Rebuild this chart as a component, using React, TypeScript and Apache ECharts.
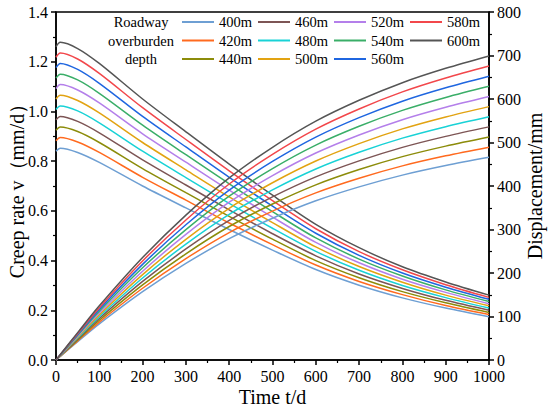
import React, { useEffect, useRef } from "react";
import * as echarts from "echarts";

// Time points (d)
const times = [0, 10, 50, 100, 200, 300, 400, 500, 600, 700, 800, 900, 1000];

// Roadway overburden depths
const depths = ["400m", "420m", "440m", "460m", "480m", "500m", "520m", "540m", "560m", "580m", "600m"];

// Creep rate v (mm/d)
const creep400 = [0.840, 0.852, 0.835, 0.795, 0.700, 0.612, 0.525, 0.442, 0.364, 0.301, 0.250, 0.209, 0.174];
const creep420 = [0.882, 0.895, 0.877, 0.835, 0.735, 0.643, 0.551, 0.464, 0.382, 0.316, 0.263, 0.219, 0.183];
const creep440 = [0.924, 0.937, 0.919, 0.875, 0.770, 0.673, 0.578, 0.486, 0.400, 0.331, 0.275, 0.230, 0.191];
const creep460 = [0.966, 0.980, 0.960, 0.914, 0.805, 0.704, 0.604, 0.508, 0.419, 0.346, 0.288, 0.240, 0.200];
const creep480 = [1.008, 1.022, 1.002, 0.954, 0.840, 0.734, 0.630, 0.530, 0.437, 0.361, 0.300, 0.251, 0.209];
const creep500 = [1.050, 1.065, 1.044, 0.994, 0.875, 0.765, 0.656, 0.553, 0.455, 0.376, 0.313, 0.261, 0.218];
const creep520 = [1.092, 1.108, 1.086, 1.034, 0.910, 0.796, 0.683, 0.575, 0.473, 0.391, 0.325, 0.272, 0.226];
const creep540 = [1.134, 1.150, 1.127, 1.073, 0.945, 0.826, 0.709, 0.597, 0.491, 0.406, 0.338, 0.282, 0.235];
const creep560 = [1.176, 1.193, 1.169, 1.113, 0.980, 0.857, 0.735, 0.619, 0.510, 0.421, 0.350, 0.293, 0.244];
const creep580 = [1.218, 1.235, 1.211, 1.153, 1.015, 0.887, 0.761, 0.641, 0.528, 0.436, 0.363, 0.303, 0.252];
const creep600 = [1.260, 1.278, 1.253, 1.193, 1.050, 0.918, 0.788, 0.663, 0.546, 0.452, 0.375, 0.314, 0.261];

// Displacement (mm)
const disp400 = [0, 8.5, 42.0, 83.0, 157.0, 222.0, 279.0, 326.0, 366.0, 398.0, 425.0, 447.0, 466.0];
const disp420 = [0, 8.9, 44.1, 87.2, 164.9, 233.1, 293.0, 342.3, 384.3, 417.9, 446.3, 469.4, 489.3];
const disp440 = [0, 9.4, 46.2, 91.3, 172.7, 244.2, 306.9, 358.6, 402.6, 437.8, 467.5, 491.7, 512.6];
const disp460 = [0, 9.8, 48.3, 95.5, 180.6, 255.3, 320.9, 374.9, 420.9, 457.7, 488.8, 514.1, 535.9];
const disp480 = [0, 10.2, 50.4, 99.6, 188.4, 266.4, 334.8, 391.2, 439.2, 477.6, 510.0, 536.4, 559.2];
const disp500 = [0, 10.6, 52.5, 103.8, 196.3, 277.5, 348.8, 407.5, 457.5, 497.5, 531.3, 558.8, 582.5];
const disp520 = [0, 11.1, 54.6, 107.9, 204.1, 288.6, 362.7, 423.8, 475.8, 517.4, 552.5, 581.1, 605.8];
const disp540 = [0, 11.5, 56.7, 112.1, 212.0, 299.7, 376.7, 440.1, 494.1, 537.3, 573.8, 603.5, 629.1];
const disp560 = [0, 11.9, 58.8, 116.2, 219.8, 310.8, 390.6, 456.4, 512.4, 557.2, 595.0, 625.8, 652.4];
const disp580 = [0, 12.3, 60.9, 120.4, 227.7, 321.9, 404.6, 472.7, 530.7, 577.1, 616.3, 648.2, 675.7];
const disp600 = [0, 12.8, 63.0, 124.5, 235.5, 333.0, 418.5, 489.0, 549.0, 597.0, 637.5, 670.5, 699.0];

const creepSets = [creep400, creep420, creep440, creep460, creep480, creep500, creep520, creep540, creep560, creep580, creep600];
const dispSets = [disp400, disp420, disp440, disp460, disp480, disp500, disp520, disp540, disp560, disp580, disp600];

const colors = [
  "#6E9FD3", "#FF6A1F", "#8C8C0A", "#7D5555", "#19D2D6", "#E2A312",
  "#B47FEA", "#3AAE68", "#1F66E0", "#F2474B", "#555555",
];

const legendTitle = ["Roadway", "overburden", "depth"];
const legendColumns = [
  ["400m", "420m", "440m"],
  ["460m", "480m", "500m"],
  ["520m", "540m", "560m"],
  ["580m", "600m"],
];

const FONT = "'Liberation Serif', serif";

export default function App() {
  const ref = useRef<HTMLDivElement>(null);

  useEffect(() => {
    if (!ref.current) return;
    const chart = echarts.init(ref.current, undefined, { renderer: "svg" });

    const series: any[] = [];
    depths.forEach((name, i) => {
      series.push({
        name,
        type: "line",
        yAxisIndex: 0,
        data: times.map((t, j) => [t, creepSets[i][j]]),
        smooth: 0.3,
        symbol: "none",
        lineStyle: { width: 1.5, color: colors[i] },
        itemStyle: { color: colors[i] },
      });
    });
    depths.forEach((name, i) => {
      series.push({
        name,
        type: "line",
        yAxisIndex: 1,
        data: times.map((t, j) => [t, dispSets[i][j]]),
        smooth: 0.3,
        symbol: "none",
        lineStyle: { width: 1.5, color: colors[i] },
        itemStyle: { color: colors[i] },
      });
    });

    const colLefts = [182, 258, 334, 410];
    const legends = legendColumns.map((col, k) => ({
      orient: "vertical",
      left: colLefts[k],
      top: 13,
      data: col,
      icon: "rect",
      itemWidth: 32,
      itemHeight: 2,
      itemGap: 0.5,
      selectedMode: false,
      textStyle: { fontFamily: FONT, fontSize: 14.5, color: "#000", lineHeight: 18 },
      padding: 0,
    }));

    const axisLine = { show: true, lineStyle: { color: "#000", width: 1.5 } };
    const labelStyle = { fontFamily: FONT, fontSize: 16, color: "#000" };
    const nameStyle = { fontFamily: FONT, fontSize: 20, color: "#000" };

    chart.setOption({
      animation: false,
      backgroundColor: "#fff",
      textStyle: { fontFamily: FONT },
      grid: {
        left: 56,
        right: 61,
        top: 12,
        bottom: 57,
        containLabel: false,
        outerBoundsMode: "none",
        show: true,
        borderColor: "#000",
        borderWidth: 1.5,
        backgroundColor: "transparent",
      },
      legend: legends,
      graphic: legendTitle.map((txt, i) => ({
        type: "text",
        x: 141,
        y: 22 + i * 18.5,
        style: {
          text: txt,
          font: `14.5px ${FONT}`,
          fill: "#000",
          textAlign: "center",
          textVerticalAlign: "middle",
        },
      })),
      xAxis: {
        type: "value",
        min: 0,
        max: 1000,
        interval: 100,
        name: "Time t/d",
        nameLocation: "middle",
        nameGap: 27,
        nameMoveOverlap: false,
        nameTextStyle: nameStyle,
        axisLine,
        axisTick: { show: true, length: 5, lineStyle: { color: "#000", width: 1.5 } },
        minorTick: { show: true, splitNumber: 2, length: 3, lineStyle: { color: "#000", width: 1.2 } },
        axisLabel: { ...labelStyle, margin: 8, formatter: (v: number) => String(v) },
        splitLine: { show: false },
      },
      yAxis: [
        {
          type: "value",
          min: 0,
          max: 1.4,
          interval: 0.2,
          position: "left",
          name: "Creep rate v（mm/d）",
          nameLocation: "middle",
          nameGap: 29,
          nameMoveOverlap: false,
          nameTextStyle: nameStyle,
          axisLine,
          axisTick: { show: true, length: 5, lineStyle: { color: "#000", width: 1.5 } },
          minorTick: { show: true, splitNumber: 2, length: 3, lineStyle: { color: "#000", width: 1.2 } },
          axisLabel: { ...labelStyle, margin: 8, formatter: (v: number) => v.toFixed(1) },
          splitLine: { show: false },
        },
        {
          type: "value",
          min: 0,
          max: 800,
          interval: 100,
          position: "right",
          name: "Displacement/mm",
          nameLocation: "middle",
          nameGap: 36,
          nameRotate: 90,
          nameMoveOverlap: false,
          nameTextStyle: nameStyle,
          axisLine,
          axisTick: { show: true, length: 5, lineStyle: { color: "#000", width: 1.5 } },
          minorTick: { show: true, splitNumber: 2, length: 3, lineStyle: { color: "#000", width: 1.2 } },
          axisLabel: { ...labelStyle, margin: 8, formatter: (v: number) => String(v) },
          splitLine: { show: false },
        },
      ],
      series,
    });

    return () => chart.dispose();
  }, []);

  return (
    <div
      ref={ref}
      style={{ position: "fixed", left: 0, top: 0, width: 550, height: 417, background: "#fff" }}
    />
  );
}
